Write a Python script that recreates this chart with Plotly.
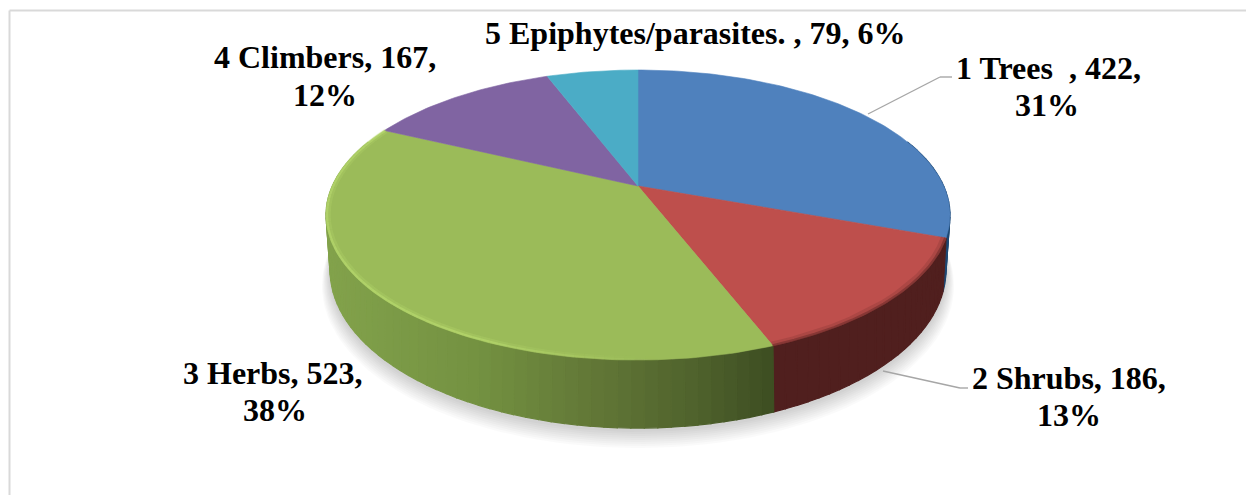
import numpy as np
import plotly.graph_objects as go

categories = ["1 Trees\u00a0\u00a0", "2 Shrubs", "3 Herbs", "4 Climbers", "5 Epiphytes/parasites. "]
values = [422, 186, 523, 167, 79]
percents = [31, 13, 38, 12, 6]
top_colors = ["#4F81BD", "#BE4F4C", "#9BBB59", "#8064A2", "#4BACC6"]

W, H = 1246, 495
FONT = "Liberation Serif"
FS = 32

TOP = dict(a=305.7, b=139.2, k=0.20, cx=638.0, cy=186.0)
BOT = dict(a=300.4, b=150.4, k=0.22, cx=638.0, cy=235.3)


def project(theta, p, scale=1.0, dy=0.0):
    u, v = np.sin(theta) * scale, np.cos(theta) * scale
    d = 1 + p["k"] * v
    return p["cx"] + p["a"] * u / d, p["cy"] - p["b"] * v / d + dy


def poly(x, y, color, line=True):
    return go.Scatter(
        x=list(x), y=list(y), mode="lines", fill="toself", fillcolor=color,
        line=dict(color=color if line else "rgba(0,0,0,0)", width=1.6 if line else 0),
        hoverinfo="skip", showlegend=False,
    )


def lerp_hex(stops_x, stops_rgb, x):
    c = [int(round(np.interp(x, stops_x, [s[i] for s in stops_rgb]))) for i in range(3)]
    return f"rgb({c[0]},{c[1]},{c[2]})"


fracs = np.array(values, dtype=float) / np.sum(values)
edges = np.concatenate([[0], np.cumsum(fracs)]) * 2 * np.pi

fig = go.Figure()

# soft shadow under the disc
full = np.linspace(0, 2 * np.pi, 200)
for i in range(9, 0, -1):
    sx, sy = project(full, BOT, scale=1 + 0.0028 * i, dy=2 + 1.3 * i)
    fig.add_trace(poly(sx, sy, "rgba(0,0,0,0.018)", line=False))


def side_color(idx, x):
    if idx == 2:
        return lerp_hex([330, 480, 600, 700, 770],
                        [(130, 162, 75), (115, 145, 65), (97, 118, 54), (78, 97, 44), (62, 78, 34)], x)
    if idx == 1:
        return "rgb(80,31,30)"
    if idx == 0:
        return "rgb(30,72,115)"
    if idx == 3:
        return "rgb(70,52,90)"
    return "rgb(40,95,110)"


# side wall, strip by strip
for idx in range(len(values)):
    n = max(2, int(np.degrees(edges[idx + 1] - edges[idx]) / 2))
    th = np.linspace(edges[idx], edges[idx + 1], n + 1)
    for t0, t1 in zip(th[:-1], th[1:]):
        if np.cos((t0 + t1) / 2) > 0.35:
            continue
        seg = np.linspace(t0, t1, 4)
        tx, ty = project(seg, TOP)
        bx, by = project(seg[::-1], BOT)
        xs = np.concatenate([tx, bx, tx[:1]])
        ys = np.concatenate([ty, by, ty[:1]])
        fig.add_trace(go.Scatter(
            x=xs, y=ys, mode="lines", fill="toself", fillcolor=side_color(idx, xs.mean()),
            line=dict(color=side_color(idx, xs.mean()), width=1.2),
            hoverinfo="skip", showlegend=False,
        ))

# top face
ax0, ay0 = project(np.array([0.0]), TOP, scale=0.0)
for idx in range(len(values)):
    n = max(8, int(np.degrees(edges[idx + 1] - edges[idx])))
    th = np.linspace(edges[idx], edges[idx + 1], n + 1)
    ax, ay = project(th, TOP)
    xs = np.concatenate([ax0, ax, ax0])
    ys = np.concatenate([ay0, ay, ay0])
    fig.add_trace(go.Scatter(
        x=xs, y=ys, mode="lines", fill="toself", fillcolor=top_colors[idx],
        line=dict(color=top_colors[idx], width=0.6),
        hoverinfo="skip", showlegend=False,
    ))

# bevel on the rim of the herbs slice and soft dark edge on the shrubs slice
th = np.linspace(edges[2], edges[3], 90)
for t0, t1 in zip(th[:-1], th[1:]):
    seg = np.array([t0, t1])
    s = np.sin((t0 + t1) / 2)
    strength = np.interp(s, [-1.0, -0.85, -0.45, -0.1, 0.05], [0.9, 0.95, 1.0, 0.3, 0.0])
    for scale, width, alpha in [(0.993, 5.0, 0.25), (0.997, 2.4, 0.6)]:
        lx, ly = project(seg, TOP, scale=scale)
        fig.add_trace(go.Scatter(
            x=lx, y=ly, mode="lines",
            line=dict(color=f"rgba(186,220,112,{strength * alpha:.2f})", width=width),
            hoverinfo="skip", showlegend=False,
        ))

th = np.linspace(edges[1], edges[2], 14)
for scale, width, alpha in [(0.992, 5.0, 0.2), (0.998, 2.5, 0.5)]:
    lx, ly = project(th, TOP, scale=scale)
    fig.add_trace(go.Scatter(x=lx, y=ly, mode="lines",
                             line=dict(color=f"rgba(100,40,38,{alpha})", width=width),
                             hoverinfo="skip", showlegend=False))

# labels: one annotation per text line
line_centers = [
    [(1048, 68), (1047, 105)],
    [(1069, 378), (1069, 415)],
    [(273, 373), (275, 410)],
    [(325, 57), (325, 95)],
    [(695, 33)],
]
annotations = []
for cat, val, pct, centers in zip(categories, values, percents, line_centers):
    if len(centers) == 1:
        lines = [f"{cat}, {val}, {pct}%"]
    else:
        lines = [f"{cat}, {val},", f"{pct}%"]
    for text, (cx, cy) in zip(lines, centers):
        annotations.append(dict(
            x=cx, y=cy, xref="x", yref="y", text=text, showarrow=False,
            xanchor="center", yanchor="middle",
            font=dict(family=FONT, size=FS, color="#000000", weight="bold"),
        ))

leaders = [
    [(868, 114), (940, 77), (952, 77)],
    [(883, 371), (960, 388), (968, 388)],
]
shapes = [
    dict(type="line", x0=9.5, x1=9.5, y0=10.5, y1=H, line=dict(color="#d9d9d9", width=2), layer="below"),
    dict(type="line", x0=9.5, x1=W, y0=10.5, y1=10.5, line=dict(color="#d9d9d9", width=2), layer="below"),
]
for pts in leaders:
    for (x0, y0), (x1, y1) in zip(pts[:-1], pts[1:]):
        shapes.append(dict(type="line", x0=x0, y0=y0, x1=x1, y1=y1,
                           line=dict(color="#a6a6a6", width=1.4), layer="above"))

fig.update_layout(
    width=W, height=H, margin=dict(l=0, r=0, t=0, b=0),
    paper_bgcolor="white", plot_bgcolor="white", showlegend=False,
    xaxis=dict(range=[0, W], visible=False, fixedrange=True),
    yaxis=dict(range=[H, 0], visible=False, fixedrange=True),
    annotations=annotations, shapes=shapes,
)

fig.write_html("out.html", config=dict(displayModeBar=False),
               post_script="document.body.style.margin='0';document.documentElement.style.overflow='hidden';")
